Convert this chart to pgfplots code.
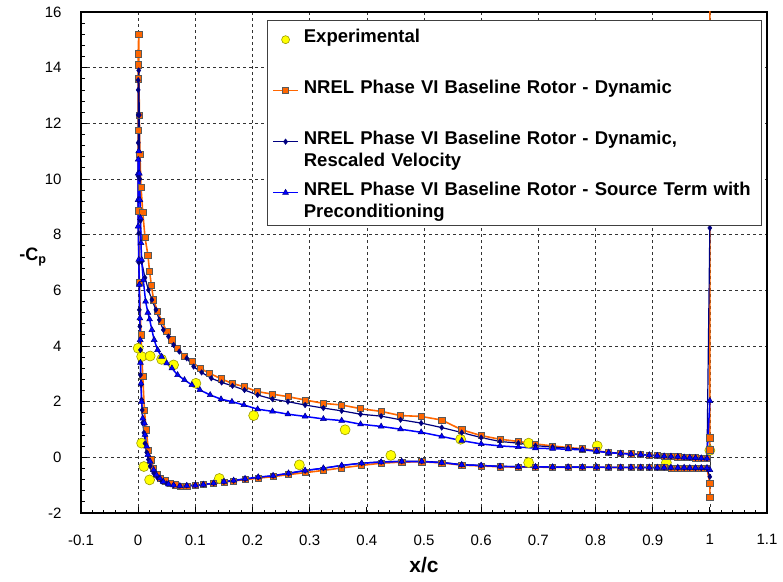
\documentclass[border=0pt]{standalone}
\usepackage{fontspec}
\setmainfont{Liberation Sans}
\usepackage{pgfplots}
\pgfplotsset{compat=1.18}
\definecolor{dynorange}{HTML}{FF6600}
\definecolor{rescnavy}{HTML}{000080}
\definecolor{srcblue}{HTML}{0000FF}
\definecolor{expyellow}{HTML}{FFFF00}
\definecolor{expedge}{HTML}{9A9A00}

\begin{document}
\begin{tikzpicture}
\begin{axis}[
  scale only axis, width=686pt, height=501pt,
  xmin=-0.1, xmax=1.1, ymin=-2, ymax=16,
  xtick={-0.1,0,0.1,0.2,0.3,0.4,0.5,0.6,0.7,0.8,0.9,1,1.1},
  ytick={-2,0,2,4,6,8,10,12,14,16},
  minor x tick num=4, minor y tick num=4,
  tick align=inside, xtick pos=left, ytick pos=left,
  major tick length=6pt, minor tick length=3.5pt,
  every tick/.style={black, line width=0.8pt},
  grid=major,
  major grid style={black!80, line width=0.6pt, dash pattern=on 3pt off 3pt},
  axis line style={line width=1.5pt},
  /pgf/number format/assume math mode=true,
  ticklabel style={font=\fontsize{15}{18}\selectfont},
  yticklabel style={xshift=-16pt},
  xticklabel style={yshift=-18pt},
  xlabel={x/c}, ylabel={-C\textsubscript{p}},
  every axis x label/.style={at={(axis description cs:0.5,-0.104)}, anchor=center,
    font=\bfseries\fontsize{21}{25}\selectfont},
  every axis y label/.style={at={(axis description cs:-0.07,0.511)}, anchor=center,
    font=\bfseries\fontsize{18}{22}\selectfont},
  legend style={at={(0.2711,0.984)}, anchor=north west, draw=black!75, line width=0.6pt,
    fill=white, inner xsep=5pt, inner ysep=7pt, row sep=13pt, column sep=4pt,
    font=\bfseries\fontsize{18.5}{22}\selectfont, cells={anchor=mid west},
    nodes={inner sep=1pt, text width=451pt, align=left, text height=14pt, text depth=22pt}},
  legend image code/.code={\draw[mark repeat=2,mark phase=2] plot coordinates {(0pt,0pt) (12.5pt,0pt) (25pt,0pt)};},
]

% experimental taps
\addplot[only marks, mark=*, mark size=5pt,
  mark options={fill=expyellow, draw=expedge, line width=0.6pt},
  legend image code/.code={\path[draw=none] (0pt,0pt) -- (25pt,0pt); \draw plot[mark size=4pt] coordinates {(12.5pt,0pt)};}]
coordinates {
(0.000,3.92)(0.006,3.62)(0.021,3.64)(0.041,3.52)(0.062,3.32)(0.101,2.66)(0.202,1.50)
(0.362,0.99)(0.442,0.07)(0.564,0.65)(0.683,0.51)(0.803,0.41)(1.000,0.25)
(0.006,0.51)(0.010,-0.33)(0.020,-0.81)(0.142,-0.76)(0.282,-0.27)(0.683,-0.19)(0.924,-0.19)
};
\addlegendentry{Experimental}

% dynamic
\addplot[dynorange, line width=1.6pt, mark=square*, mark size=3.1pt,
  mark options={solid, fill=dynorange, draw=black!65, line width=0.6pt}]
coordinates {
(1.0,-1.45)(1.0,-0.93)(0.995,-0.40)(0.985,-0.39)(0.975,-0.39)(0.965,-0.38)(0.955,-0.38)(0.944,-0.38)
(0.932,-0.38)(0.920,-0.37)(0.908,-0.37)(0.894,-0.37)(0.879,-0.37)(0.862,-0.37)(0.844,-0.37)(0.823,-0.36)
(0.802,-0.36)(0.777,-0.36)(0.752,-0.36)(0.725,-0.36)(0.695,-0.35)(0.665,-0.35)(0.633,-0.34)(0.600,-0.31)
(0.566,-0.28)(0.531,-0.20)(0.496,-0.16)(0.461,-0.17)(0.425,-0.21)(0.391,-0.29)(0.356,-0.38)(0.324,-0.47)
(0.292,-0.55)(0.263,-0.62)(0.236,-0.69)(0.210,-0.75)(0.187,-0.80)(0.167,-0.85)(0.150,-0.89)(0.132,-0.94)
(0.114,-0.98)(0.100,-1.01)(0.085,-1.03)(0.073,-1.05)(0.065,-0.99)(0.056,-0.93)(0.047,-0.84)(0.039,-0.75)
(0.033,-0.60)(0.027,-0.39)(0.023,-0.09)(0.018,0.24)(0.014,0.99)(0.011,1.68)(0.008,2.90)(0.005,4.40)
(0.002,6.28)(0.000,8.86)(0.000,11.76)(0.000,13.60)(0.000,14.10)(0.000,14.50)(0.001,15.20)(0.002,12.30)
(0.003,10.90)(0.005,9.70)(0.008,8.80)(0.012,7.90)(0.017,7.27)(0.020,6.67)(0.023,6.19)(0.027,5.66)
(0.034,5.24)(0.041,4.90)(0.050,4.52)(0.059,4.22)(0.069,3.91)(0.081,3.62)(0.094,3.44)(0.108,3.20)
(0.125,3.02)(0.145,2.82)(0.164,2.66)(0.185,2.54)(0.209,2.36)(0.235,2.27)(0.262,2.18)(0.292,2.06)
(0.324,1.94)(0.356,1.88)(0.389,1.75)(0.425,1.65)(0.459,1.50)(0.495,1.47)(0.531,1.34)(0.566,0.99)
(0.600,0.78)(0.633,0.65)(0.665,0.57)(0.695,0.48)(0.725,0.41)(0.752,0.35)(0.777,0.31)(0.802,0.24)
(0.823,0.17)(0.844,0.15)(0.862,0.13)(0.879,0.10)(0.894,0.08)(0.908,0.06)(0.920,0.05)(0.932,0.03)
(0.944,0.02)(0.955,0.00)(0.965,-0.01)(0.975,-0.02)(0.985,-0.03)(0.995,-0.03)(1.0,0.27)(1.0,0.70)(1.0,25)
};
\addlegendentry{NREL Phase VI Baseline Rotor - Dynamic}

% dynamic, rescaled velocity
\addplot[rescnavy, line width=1.2pt, mark=diamond*, mark size=2.8pt,
  mark options={solid, fill=rescnavy, draw=rescnavy, line width=0.4pt}]
coordinates {
(1.0,-0.70)(0.995,-0.40)(0.985,-0.39)(0.975,-0.39)(0.965,-0.38)(0.955,-0.38)(0.944,-0.38)(0.932,-0.37)
(0.920,-0.37)(0.908,-0.37)(0.894,-0.37)(0.879,-0.36)(0.862,-0.36)(0.844,-0.36)(0.823,-0.36)(0.802,-0.36)
(0.777,-0.35)(0.752,-0.35)(0.725,-0.35)(0.695,-0.34)(0.665,-0.33)(0.633,-0.32)(0.600,-0.29)(0.566,-0.26)
(0.531,-0.18)(0.496,-0.14)(0.461,-0.14)(0.425,-0.16)(0.391,-0.21)(0.356,-0.29)(0.324,-0.39)(0.292,-0.48)
(0.263,-0.58)(0.236,-0.66)(0.210,-0.72)(0.187,-0.78)(0.167,-0.84)(0.150,-0.88)(0.132,-0.93)(0.114,-0.97)
(0.100,-1.00)(0.085,-1.01)(0.073,-1.02)(0.062,-1.00)(0.050,-0.94)(0.041,-0.86)(0.034,-0.74)(0.027,-0.56)
(0.021,-0.32)(0.018,-0.08)(0.015,0.18)(0.012,0.50)(0.010,0.88)(0.008,1.24)(0.007,1.70)(0.006,2.07)
(0.005,2.60)(0.004,2.96)(0.004,3.86)(0.003,4.70)(0.002,5.30)(0.002,6.20)(0.001,7.00)(0.001,8.05)
(0.000,9.25)(0.000,10.10)(0.000,11.30)(0.000,12.30)(0.000,13.20)(0.000,13.55)(0.001,13.90)(0.002,12.30)
(0.003,10.00)(0.004,8.50)(0.006,7.03)(0.012,6.45)(0.018,6.01)(0.024,5.66)(0.031,5.30)(0.037,4.94)
(0.044,4.58)(0.053,4.34)(0.062,4.04)(0.072,3.80)(0.085,3.56)(0.097,3.26)(0.111,3.05)(0.128,2.84)
(0.146,2.69)(0.165,2.57)(0.186,2.42)(0.209,2.24)(0.235,2.09)(0.262,2.00)(0.292,1.88)(0.324,1.77)
(0.356,1.67)(0.389,1.55)(0.425,1.48)(0.459,1.35)(0.495,1.23)(0.531,1.07)(0.566,0.89)(0.600,0.71)
(0.633,0.57)(0.665,0.51)(0.695,0.42)(0.725,0.37)(0.752,0.33)(0.777,0.29)(0.802,0.22)(0.823,0.17)
(0.844,0.14)(0.862,0.12)(0.879,0.10)(0.894,0.08)(0.908,0.06)(0.920,0.04)(0.932,0.03)(0.944,0.02)
(0.955,0.00)(0.965,-0.01)(0.975,-0.02)(0.985,-0.03)(0.995,-0.04)(1.0,8.24)
};
\addlegendentry{NREL Phase VI Baseline Rotor - Dynamic,\\Rescaled Velocity}

% source term with preconditioning
\addplot[srcblue, line width=1.5pt, mark=triangle*, mark size=3.4pt,
  mark options={solid, fill=srcblue, draw=rescnavy, line width=0.5pt}]
coordinates {
(1.0,-0.45)(0.995,-0.38)(0.985,-0.38)(0.975,-0.38)(0.965,-0.38)(0.955,-0.37)(0.944,-0.37)(0.932,-0.37)
(0.920,-0.37)(0.908,-0.37)(0.894,-0.36)(0.879,-0.36)(0.862,-0.36)(0.844,-0.36)(0.823,-0.36)(0.802,-0.35)
(0.777,-0.35)(0.752,-0.35)(0.725,-0.35)(0.695,-0.34)(0.665,-0.34)(0.633,-0.33)(0.600,-0.29)(0.566,-0.27)
(0.531,-0.19)(0.496,-0.15)(0.461,-0.15)(0.425,-0.17)(0.391,-0.21)(0.356,-0.29)(0.324,-0.39)(0.292,-0.47)
(0.263,-0.57)(0.236,-0.66)(0.210,-0.71)(0.187,-0.77)(0.167,-0.83)(0.150,-0.87)(0.132,-0.93)(0.114,-0.98)
(0.100,-1.01)(0.085,-1.02)(0.073,-1.03)(0.062,-1.00)(0.053,-0.96)(0.044,-0.87)(0.038,-0.75)(0.032,-0.63)
(0.027,-0.45)(0.021,-0.15)(0.017,0.09)(0.015,0.39)(0.012,0.81)(0.011,1.23)(0.008,1.40)(0.006,2.00)
(0.005,2.66)(0.004,3.40)(0.0035,4.22)(0.003,5.00)(0.002,6.20)(0.001,7.10)(0.000,8.30)(0.000,9.25)
(0.000,10.20)(0.000,10.70)(0.001,11.00)(0.002,10.20)(0.003,9.25)(0.004,8.60)(0.005,7.70)(0.006,7.10)
(0.009,6.37)(0.013,5.60)(0.017,5.20)(0.020,4.96)(0.024,4.58)(0.028,4.22)(0.034,3.86)(0.041,3.62)
(0.050,3.38)(0.059,3.20)(0.069,2.96)(0.081,2.78)(0.094,2.60)(0.108,2.42)(0.126,2.24)(0.145,2.09)
(0.164,2.00)(0.185,1.88)(0.209,1.73)(0.235,1.65)(0.262,1.55)(0.292,1.47)(0.324,1.38)(0.356,1.32)
(0.389,1.19)(0.425,1.11)(0.459,1.01)(0.495,0.90)(0.531,0.75)(0.566,0.60)(0.600,0.48)(0.633,0.41)
(0.665,0.37)(0.695,0.33)(0.725,0.31)(0.752,0.29)(0.777,0.27)(0.802,0.22)(0.823,0.17)(0.844,0.14)
(0.862,0.12)(0.879,0.10)(0.894,0.08)(0.908,0.06)(0.920,0.04)(0.932,0.03)(0.944,0.02)(0.955,0.00)
(0.965,-0.01)(0.975,-0.02)(0.985,-0.03)(0.995,-0.04)(1.0,2.03)
};
\addlegendentry{NREL Phase VI Baseline Rotor - Source Term with\\Preconditioning}
\end{axis}
\path ([shift={(-81pt,-68pt)}]current axis.south west) rectangle ([shift={(16pt,12pt)}]current axis.north east);
\end{tikzpicture}
\end{document}
